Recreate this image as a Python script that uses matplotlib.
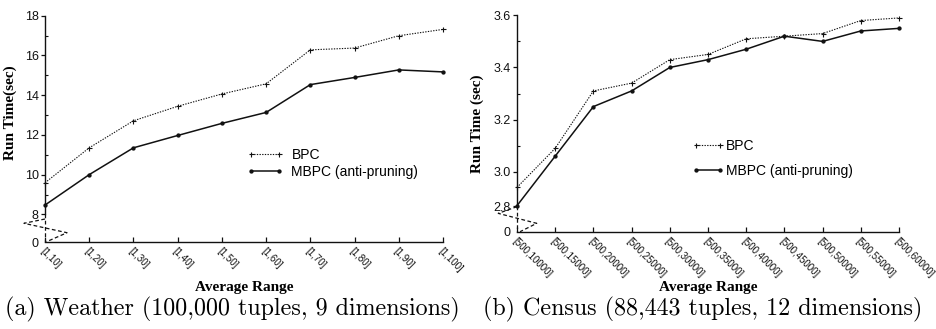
import numpy as np
import matplotlib
matplotlib.use("Agg")
import matplotlib.pyplot as plt
from matplotlib.ticker import FixedLocator, FixedFormatter

# ---- data ----
weather_ranges = ["[1,10]", "[1,20]", "[1,30]", "[1,40]", "[1,50]",
                  "[1,60]", "[1,70]", "[1,80]", "[1,90]", "[1,100]"]
weather_bpc = [9.59, 11.35, 12.71, 13.44, 14.06, 14.57, 16.28, 16.37, 16.99, 17.31]
weather_mbpc = [8.47, 10.0, 11.35, 11.97, 12.58, 13.13, 14.53, 14.89, 15.27, 15.17]

census_ranges = ["[500,10000]", "[500,15000]", "[500,20000]", "[500,25000]",
                 "[500,30000]", "[500,35000]", "[500,40000]", "[500,45000]",
                 "[500,50000]", "[500,55000]", "[500,60000]"]
census_bpc = [2.94, 3.09, 3.31, 3.34, 3.43, 3.45, 3.51, 3.52, 3.53, 3.58, 3.59]
census_mbpc = [2.87, 3.06, 3.25, 3.31, 3.40, 3.43, 3.47, 3.52, 3.50, 3.54, 3.55]

series_names = ["BPC", "MBPC (anti-pruning)"]
captions = ["(a) Weather (100,000 tuples, 9 dimensions)",
            "(b) Census (88,443 tuples, 12 dimensions)"]

SANS = "Liberation Sans"
SERIF = "Liberation Serif"
INK = "#111111"

W, H = 937, 329
fig = plt.figure(figsize=(W / 100, H / 100), dpi=100)


def px_axes(left, right, top, bottom):
    return fig.add_axes([left / W, 1 - bottom / H, (right - left) / W, (bottom - top) / H])


def draw_panel(ax, labels, bpc, mbpc, ylim, majors, major_labels, minors,
               break_val, zigzag, ylabel, ylabel_xy, xlabel_x, leg_anchor, leg_opts):
    x = np.arange(len(labels))
    ax.plot(x, bpc, color=INK, lw=0.8, ls=(0, (1.2, 1.2)), marker="+", ms=3.6,
            mew=0.8, label=series_names[0], clip_on=False)
    ax.plot(x, mbpc, color=INK, lw=1.1, marker="o", ms=2.1, label=series_names[1],
            clip_on=False)
    ax.set_xlim(0, len(labels) - 1)
    ax.set_ylim(*ylim)

    for s in ("top", "right"):
        ax.spines[s].set_visible(False)
    ax.spines["left"].set_bounds(break_val, ylim[1])
    for s in ("left", "bottom"):
        ax.spines[s].set_linewidth(1.0)
        ax.spines[s].set_color(INK)

    # dashed remainder of the y axis plus the break zigzag
    ax.plot([0, 0], [break_val, ylim[0]], color=INK, lw=0.9, ls=(0, (3, 2)),
            clip_on=False)
    zx, zy = zip(*zigzag)
    ax.plot(zx, zy, transform=ax.transAxes, color=INK, lw=0.9, ls=(0, (3, 2)),
            clip_on=False)

    ax.yaxis.set_major_locator(FixedLocator(majors))
    ax.yaxis.set_major_formatter(FixedFormatter(major_labels))
    ax.yaxis.set_minor_locator(FixedLocator(minors))
    ax.tick_params(axis="y", which="major", direction="out", length=3, width=0.9,
                   pad=1.5, labelsize=9, colors=INK)
    ax.tick_params(axis="y", which="minor", direction="in", length=2, width=0.8,
                   colors=INK)
    ax.yaxis.get_major_ticks()[0].tick1line.set_visible(False)
    for t in ax.get_yticklabels():
        t.set_fontfamily(SANS)

    ax.set_xticks(x)
    ax.set_xticklabels(labels, rotation=-45, ha="left", va="top",
                       rotation_mode="anchor", fontsize=7, fontfamily=SANS)
    ax.tick_params(axis="x", direction="in", length=3.5, width=0.9, pad=3,
                   colors=INK)

    ax.set_ylabel(ylabel, fontfamily=SERIF, fontweight="bold", fontsize=11)
    ax.yaxis.set_label_coords(*ylabel_xy)
    # x axis title placed in figure pixels, same height for both panels
    fig.text(xlabel_x / W, 1 - 288 / H, "Average Range", fontfamily=SERIF,
             fontweight="bold", fontsize=11, ha="center", va="center")

    ax.legend(loc="center left", bbox_to_anchor=leg_anchor, frameon=False,
              numpoints=2, borderpad=0, borderaxespad=0,
              prop={"family": SANS, "size": 10}, **leg_opts)


ax1 = px_axes(45, 443, 15.67, 242)
draw_panel(ax1, weather_ranges, weather_bpc, weather_mbpc,
           ylim=(6.61, 18),
           majors=[6.61, 8, 10, 12, 14, 16, 18],
           major_labels=["0", "8", "10", "12", "14", "16", "18"],
           minors=[9, 11, 13, 15, 17],
           break_val=8,
           zigzag=[(0, 0.1016), (-0.0528, 0.0826), (0.0553, 0.041), (0.004, 0.0013)],
           ylabel="Run Time(sec)", ylabel_xy=(-0.07, 0.57), xlabel_x=244,
           leg_anchor=(0.5075, 0.347),
           leg_opts=dict(handlelength=2.6, handletextpad=0.6, labelspacing=0.25))

ax2 = px_axes(517, 899, 15.33, 232)
draw_panel(ax2, census_ranges, census_bpc, census_mbpc,
           ylim=(2.769, 3.6),
           majors=[2.769, 2.868, 3.0, 3.2, 3.4, 3.6],
           major_labels=["0", "2.8", "3.0", "3.2", "3.4", "3.6"],
           minors=[3.1, 3.3, 3.5],
           break_val=2.868,
           zigzag=[(0, 0.117), (-0.049, 0.086), (0.0516, 0.040), (0.008, 0.0014)],
           ylabel="Run Time (sec)", ylabel_xy=(-0.086, 0.5), xlabel_x=708,
           leg_anchor=(0.458, 0.340),
           leg_opts=dict(handlelength=2.3, handletextpad=0.15, labelspacing=0.75))

fig.text(232 / W, 1 - 309 / H, captions[0], fontfamily="cmr10", fontsize=17.3,
         ha="center", va="center")
fig.text(703 / W, 1 - 309 / H, captions[1], fontfamily="cmr10", fontsize=17.3,
         ha="center", va="center")

fig.savefig("out.png", dpi=100)
